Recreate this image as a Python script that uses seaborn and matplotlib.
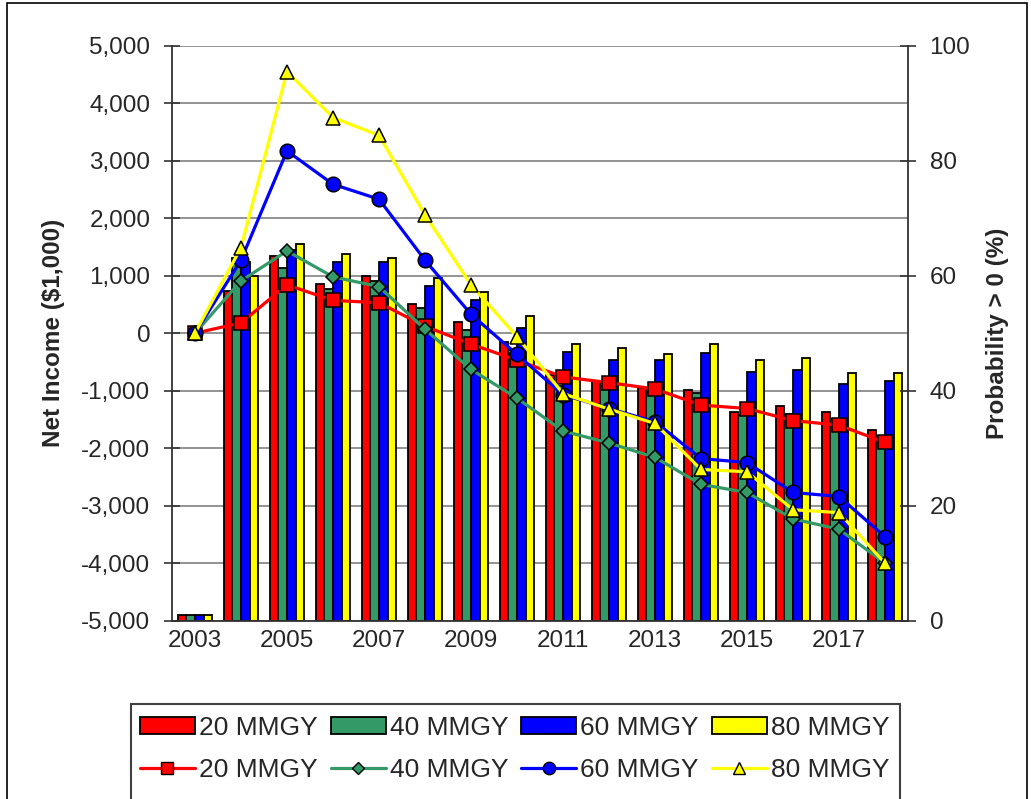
"""Net income (barras) e probabilidade de lucro (linhas) por capacidade da planta."""

import matplotlib.pyplot as plt
import numpy as np
import pandas as pd
import seaborn as sns
from matplotlib.lines import Line2D
from matplotlib.patches import Patch, Rectangle
from matplotlib.ticker import FuncFormatter, MultipleLocator

sns.set_style("white")
plt.rcParams["font.family"] = ["Liberation Sans", "DejaVu Sans"]

ANOS = list(range(2003, 2019))
SERIES = ["20 MMGY", "40 MMGY", "60 MMGY", "80 MMGY"]

# Net income ($1,000) por ano
net_20 = [-4900, 740, 1350, 857, 995, 505, 195, -155, -735, -825, -957, -985, -1363, -1260, -1370, -1680]
net_40 = [-4900, 1300, 1135, 765, 905, 440, 57, -290, -920, -920, -1015, -1045, -1430, -1400, -1490, -1780]
net_60 = [-4900, 1235, 1450, 1246, 1240, 820, 580, 90, -320, -459, -459, -350, -668, -633, -875, -838]
net_80 = [-4900, 1000, 1560, 1385, 1310, 965, 724, 300, -190, -258, -360, -184, -464, -430, -700, -700]

# Probabilidade de net income > 0 (%)
prob_20 = [50, 51.8, 58.4, 55.7, 55.3, 51.2, 48.1, 45.3, 42.4, 41.4, 40.3, 37.5, 36.9, 34.8, 34.0, 31.0]
prob_40 = [50, 59.1, 64.3, 59.8, 58.1, 50.7, 43.7, 38.7, 33.0, 30.9, 28.4, 23.7, 22.3, 17.7, 15.9, 10.0]
prob_60 = [50, 62.7, 81.7, 75.9, 73.3, 62.7, 53.3, 46.3, 39.3, 36.9, 34.6, 28.2, 27.5, 22.3, 21.6, 14.6]
prob_80 = [50, 64.9, 95.5, 87.5, 84.4, 70.6, 58.4, 49.4, 39.5, 36.8, 34.3, 26.3, 25.9, 19.3, 18.8, 10.0]

CORES = {"20 MMGY": "#FF0000", "40 MMGY": "#339966", "60 MMGY": "#0000FF", "80 MMGY": "#FFFF00"}
MARCADORES = {"20 MMGY": "s", "40 MMGY": "D", "60 MMGY": "o", "80 MMGY": "^"}
TAM_MARCADOR = {"20 MMGY": 9.5, "40 MMGY": 7.5, "60 MMGY": 10.5, "80 MMGY": 10.5}

# piso do eixo esquerdo: as barras (estilo Excel) crescem a partir daqui
BASE = -5000

W, H = 1031, 799
FONTE = 17.5


def main() -> None:
    net = pd.DataFrame(
        {"Ano": ANOS, "20 MMGY": net_20, "40 MMGY": net_40, "60 MMGY": net_60, "80 MMGY": net_80}
    ).melt(id_vars="Ano", var_name="Serie", value_name="Net")
    net["altura"] = net["Net"] - BASE

    prob = pd.DataFrame(
        {"Ano": ANOS, "20 MMGY": prob_20, "40 MMGY": prob_40, "60 MMGY": prob_60, "80 MMGY": prob_80}
    ).melt(id_vars="Ano", var_name="Serie", value_name="Prob")
    prob["pos"] = prob["Ano"].map({a: i for i, a in enumerate(ANOS)})

    fig = plt.figure(figsize=(W / 100, H / 100), dpi=100)
    ax = fig.add_axes([172 / W, 1 - 620.7 / H, 736 / W, 575 / H])
    ax.set_axisbelow(True)

    sns.barplot(
        data=net,
        x="Ano",
        y="altura",
        hue="Serie",
        hue_order=SERIES,
        palette=CORES,
        width=0.74,
        gap=0,
        bottom=BASE,
        errorbar=None,
        saturation=1,
        edgecolor="black",
        linewidth=1.3,
        legend=False,
        ax=ax,
    )

    ax.set_xlim(-0.5, len(ANOS) - 0.5)
    ax.set_ylim(-5000, 5000)
    ax.yaxis.set_major_locator(MultipleLocator(1000))
    ax.yaxis.set_major_formatter(FuncFormatter(lambda v, _: f"{v:,.0f}"))
    ax.yaxis.grid(True, color="#808080", linewidth=1.2)
    ax.xaxis.grid(False)

    ax.set_xticks(range(0, len(ANOS), 2))
    ax.set_xticklabels([str(a) for a in ANOS[::2]])
    ax.set_xticks(np.arange(-0.5, len(ANOS), 1), minor=True)
    ax.tick_params(axis="x", which="major", length=0, labelsize=FONTE, pad=7)
    ax.tick_params(axis="x", which="minor", direction="inout", length=11, width=1.2, color="#333333")
    ax.tick_params(axis="y", direction="inout", length=11, width=1.2, color="#333333",
                   labelsize=FONTE, pad=10, left=True)

    ax.set_xlabel("")
    ax.set_ylabel("Net Income ($1,000)", fontsize=FONTE, fontweight="bold")
    ax.yaxis.set_label_coords(-0.145, 0.5)

    for lado in ("top", "right"):
        ax.spines[lado].set_visible(False)
    for lado in ("left", "bottom"):
        ax.spines[lado].set_color("#333333")
        ax.spines[lado].set_linewidth(1.3)

    # --- linhas de probabilidade no eixo secundário ---
    ax2 = ax.twinx()
    sns.lineplot(
        data=prob,
        x="pos",
        y="Prob",
        hue="Serie",
        hue_order=SERIES,
        style="Serie",
        style_order=SERIES,
        palette=CORES,
        markers=MARCADORES,
        dashes=False,
        sort=False,
        linewidth=2.3,
        markersize=9,
        markeredgecolor="black",
        markeredgewidth=1.1,
        legend=False,
        ax=ax2,
    )
    for linha, serie in zip(ax2.lines, SERIES):
        linha.set_markersize(TAM_MARCADOR[serie])

    ax2.set_ylim(0, 100)
    ax2.yaxis.set_major_locator(MultipleLocator(20))
    ax2.tick_params(axis="y", direction="inout", length=11, width=1.2, color="#333333",
                    labelsize=FONTE, pad=10, right=True)
    ax2.set_ylabel("Probability > 0 (%)", fontsize=FONTE, fontweight="bold")
    ax2.yaxis.set_label_coords(1.106, 0.5)
    ax2.grid(False)
    for lado in ("top", "left", "bottom"):
        ax2.spines[lado].set_visible(False)
    ax2.spines["right"].set_color("#333333")
    ax2.spines["right"].set_linewidth(1.3)

    # --- legenda: linha 1 barras, linha 2 linhas ---
    handles, labels = [], []
    for serie in SERIES:
        handles.append(Patch(facecolor=CORES[serie], edgecolor="black", linewidth=1.3))
        labels.append(serie)
        handles.append(
            Line2D([], [], color=CORES[serie], linewidth=2.3, marker=MARCADORES[serie],
                   markersize=TAM_MARCADOR[serie] * 0.85, markeredgecolor="black", markeredgewidth=1)
        )
        labels.append(serie)
    fig.legend(
        handles,
        labels,
        ncol=4,
        loc="upper left",
        bbox_to_anchor=(140 / W, 1 - 716 / H),
        frameon=False,
        fontsize=19,
        handlelength=2.08,
        handleheight=0.62,
        handletextpad=0.15,
        columnspacing=0.5,
        labelspacing=0.68,
        borderpad=0,
        borderaxespad=0,
    )

    fig.patches.append(
        Rectangle((131 / W, -0.05), (900 - 131) / W, 0.05 + 1 - 704 / H,
                  transform=fig.transFigure, fill=False, edgecolor="#404040", linewidth=1.5)
    )
    fig.patches.append(
        Rectangle((7 / W, -0.05), (1027 - 7) / W, 0.05 + 1 - 3 / H,
                  transform=fig.transFigure, fill=False, edgecolor="black", linewidth=1.2)
    )

    fig.savefig("out.png", dpi=100)


if __name__ == "__main__":
    main()
